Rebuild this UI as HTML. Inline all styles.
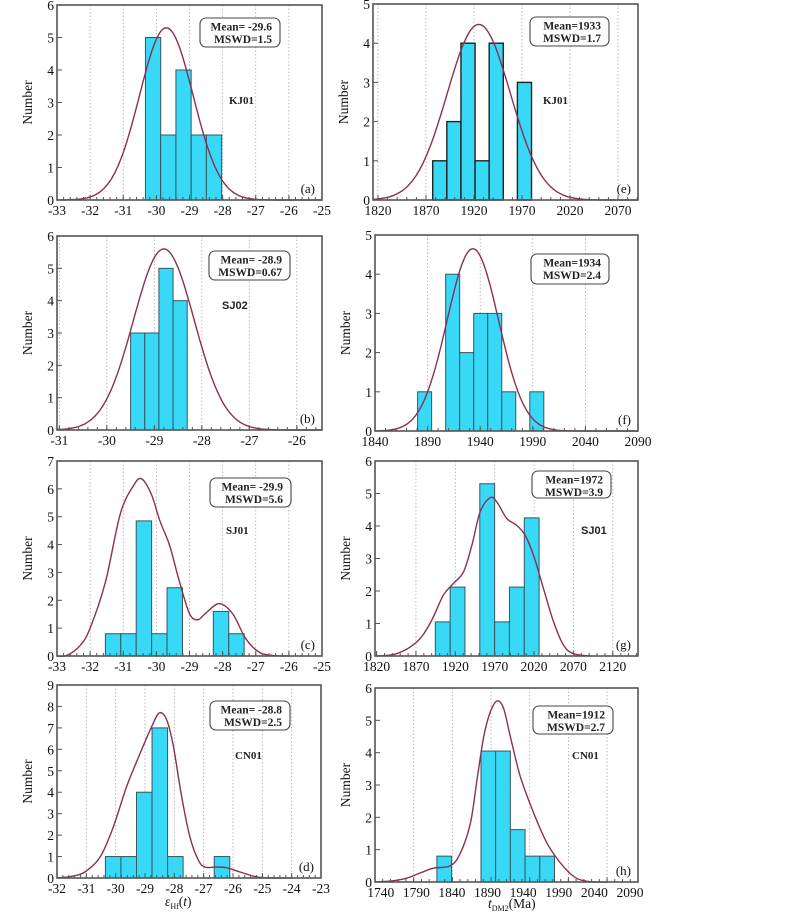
<!DOCTYPE html>
<html><head><meta charset="utf-8">
<style>
html,body{margin:0;padding:0;background:#fff;}
svg{display:block;font-family:"Liberation Serif",serif;}
</style></head>
<body>
<svg id="fig" width="800" height="914" viewBox="0 0 800 914" xmlns="http://www.w3.org/2000/svg"></svg>
<script>
// ---- data: panel a (KJ01 eHf)
const aBinStart = -30.33, aBinWidth = 0.46;
const aCounts = [5, 2, 4, 2, 2];
const aCurve = [5.3, -29.7, 0.81];
const aXTicks = [-33, -32, -31, -30, -29, -28, -27, -26, -25];
const aYTicks = [0, 1, 2, 3, 4, 5, 6];
// panel b (SJ02 eHf)
const bBinStart = -29.5, bBinWidth = 0.298;
const bCounts = [3, 3, 5, 4];
const bCurve = [5.6, -28.8, 0.64];
const bXTicks = [-31, -30, -29, -28, -27, -26];
const bYTicks = [0, 1, 2, 3, 4, 5, 6];
// panel c (SJ01 eHf)
const cBinStart = -31.54, cBinWidth = 0.4656;
const cCounts = [0.8, 0.8, 4.85, 0.8, 2.45, 0, 0, 1.6, 0.8];
const cCurveX = [-33, -32.7, -32.3, -32.0, -31.54, -31.09, -30.7, -30.45, -30.15, -29.9, -29.6, -29.3, -29.0, -28.75, -28.5, -28.1, -27.7, -27.3, -26.9, -26.5, -26];
const cCurveY = [0, 0.02, 0.38, 1.0, 2.65, 5.1, 6.1, 6.36, 5.8, 4.87, 3.97, 2.65, 1.52, 1.3, 1.55, 1.88, 1.52, 0.62, 0.14, 0.02, 0];
const cXTicks = [-33, -32, -31, -30, -29, -28, -27, -26, -25];
const cYTicks = [0, 1, 2, 3, 4, 5, 6, 7];
// panel d (CN01 eHf)
const dBinStart = -30.35, dBinWidth = 0.53;
const dCounts = [1, 1, 4, 7, 1, 0, 0, 1];
const dCurveX = [-32, -31.5, -31.05, -30.53, -30.08, -29.63, -29.17, -28.77, -28.51, -28.26, -28.03, -27.75, -27.47, -27.18, -26.95, -26.56, -26.22, -25.76, -25.19, -24.63, -24];
const dCurveY = [0, 0.08, 0.28, 0.98, 2.38, 4.25, 5.8, 7.06, 7.7, 7.37, 6.12, 3.79, 1.92, 0.83, 0.51, 0.51, 0.48, 0.28, 0.05, 0, 0];
const dXTicks = [-32, -31, -30, -29, -28, -27, -26, -25, -24, -23];
const dYTicks = [0, 1, 2, 3, 4, 5, 6, 7, 8, 9];
// panel e (KJ01 tDM2)
const eBinStart = 1877, eBinWidth = 14.7;
const eCounts = [1, 2, 4, 1, 4, 0, 3];
const eCurve = [4.48, 1925, 32.9];
const eXTicks = [1820, 1870, 1920, 1970, 2020, 2070];
const eYTicks = [0, 1, 2, 3, 4, 5];
// panel f (SJ02 tDM2)
const fBinStart = 1880.5, fBinWidth = 13.33;
const fCounts = [1, 0, 4, 2, 3, 3, 1, 0, 1];
const fCurve = [4.65, 1933, 24.5];
const fXTicks = [1840, 1890, 1940, 1990, 2040, 2090];
const fYTicks = [0, 1, 2, 3, 4, 5];
// panel g (SJ01 tDM2)
const gBinStart = 1894.6, gBinWidth = 18.83;
const gCounts = [1.05, 2.12, 0, 5.3, 1.05, 2.12, 4.25];
const gCurveX = [1820, 1845.4, 1870.9, 1887.9, 1904.8, 1917.5, 1930.3, 1940.9, 1951.5, 1964.2, 1972.7, 1985.4, 1998.1, 2008.7, 2019.3, 2032, 2044.8, 2057.5, 2070.2, 2091.4];
const gCurveY = [0, 0.07, 0.43, 1.0, 1.87, 2.23, 2.58, 3.4, 4.43, 4.87, 4.74, 4.23, 4.02, 3.71, 3.1, 2.07, 1.05, 0.33, 0.07, 0];
const gXTicks = [1820, 1870, 1920, 1970, 2020, 2070, 2120];
const gYTicks = [0, 1, 2, 3, 4, 5, 6];
// panel h (CN01 tDM2)
const hBinStart = 1820, hBinWidth = 19.0;
const hCounts = [0.8, 0, 0, 4.05, 4.05, 1.62, 0.8, 0.8];
const hCurveX = [1740, 1764, 1781.4, 1798.6, 1815.9, 1837.4, 1850.3, 1863.3, 1871.9, 1880.5, 1889.1, 1897.8, 1906.4, 1915, 1927.9, 1945.2, 1962.4, 1979.7, 1996.9, 2009.8, 2022.8, 2040];
const hCurveY = [0, 0.04, 0.12, 0.28, 0.43, 0.5, 0.89, 1.82, 3.16, 4.49, 5.26, 5.6, 5.36, 4.49, 3.26, 2.13, 1.2, 0.59, 0.17, 0.04, 0, 0];
const hXTicks = [1740, 1790, 1840, 1890, 1940, 1990, 2040, 2090];
const hYTicks = [0, 1, 2, 3, 4, 5, 6];

// ---- layout (geometry only)
const panels = [
 {id:'a', L:57,T:5,R:322,B:200, xd:[-33,-25], yd:[0,6], xt:aXTicks, yt:aYTicks, start:aBinStart, w:aBinWidth, counts:aCounts, gauss:aCurve,
  box:[200,18,80,29], mean:'Mean= -29.6', mswd:'MSWD=1.5', sample:'KJ01', sx:229, sy:104, sans:false},
 {id:'b', L:57,T:236,R:322,B:430, xd:[-31.05,-25.47], yd:[0,6], xt:bXTicks, yt:bYTicks, start:bBinStart, w:bBinWidth, counts:bCounts, gauss:bCurve,
  box:[209,251,81,29], mean:'Mean= -28.9', mswd:'MSWD=0.67', sample:'SJ02', sx:222, sy:309, sans:true},
 {id:'c', L:57,T:461,R:322,B:656, xd:[-33,-25], yd:[0,7], xt:cXTicks, yt:cYTicks, start:cBinStart, w:cBinWidth, counts:cCounts, px:cCurveX, py:cCurveY,
  box:[210,478,81,29], mean:'Mean= -29.9', mswd:'MSWD=5.6', sample:'SJ01', sx:226, sy:534, sans:false},
 {id:'d', L:57,T:685,R:321,B:878, xd:[-32,-23], yd:[0,9], xt:dXTicks, yt:dYTicks, start:dBinStart, w:dBinWidth, counts:dCounts, px:dCurveX, py:dCurveY,
  box:[210,701,80,29], mean:'Mean= -28.8', mswd:'MSWD=2.5', sample:'CN01', sx:235, sy:759, sans:false},
 {id:'e', L:373,T:4,R:638,B:200, xd:[1814.8,2090.8], yd:[0,5], xt:eXTicks, yt:eYTicks, start:eBinStart, w:eBinWidth, counts:eCounts, gauss:eCurve,
  box:[530,17,79,29], mean:'Mean=1933', mswd:'MSWD=1.7', sample:'KJ01', sx:543, sy:104, sans:false, thick:true},
 {id:'f', L:375,T:235,R:638,B:431, xd:[1840,2090], yd:[0,5], xt:fXTicks, yt:fYTicks, start:fBinStart, w:fBinWidth, counts:fCounts, gauss:fCurve,
  box:[531,254,78,30], mean:'Mean=1934', mswd:'MSWD=2.4', sample:'', sans:false},
 {id:'g', L:375,T:461,R:638,B:656, xd:[1818,2152], yd:[0,6], xt:gXTicks, yt:gYTicks, start:gBinStart, w:gBinWidth, counts:gCounts, px:gCurveX, py:gCurveY,
  box:[532,471,79,27], mean:'Mean=1972', mswd:'MSWD=3.9', sample:'SJ01', sx:581, sy:534, sans:true},
 {id:'h', L:375,T:688,R:638,B:882, xd:[1740,2080], yd:[0,6], xt:hXTicks, yt:hYTicks, start:hBinStart, w:hBinWidth, counts:hCounts, px:hCurveX, py:hCurveY,
  box:[533,706,80,28], mean:'Mean=1912', mswd:'MSWD=2.7', sample:'CN01', sx:572, sy:759, sans:false, labelMap:[1740,380.7,2090,630]}
];

const NS='http://www.w3.org/2000/svg';
const svg=document.getElementById('fig');
function mk(tag, attrs, parent){
  const e=document.createElementNS(NS,tag);
  for(const k in attrs) e.setAttribute(k,attrs[k]);
  (parent||svg).appendChild(e); return e;
}
function smoothPath(pts){
  let d='M'+pts[0][0].toFixed(1)+','+pts[0][1].toFixed(1);
  for(let i=0;i<pts.length-1;i++){
    const p0=pts[Math.max(0,i-1)],p1=pts[i],p2=pts[i+1],p3=pts[Math.min(pts.length-1,i+2)];
    const c1x=p1[0]+(p2[0]-p0[0])/6,c1y=p1[1]+(p2[1]-p0[1])/6;
    const c2x=p2[0]-(p3[0]-p1[0])/6,c2y=p2[1]-(p3[1]-p1[1])/6;
    d+=' C'+c1x.toFixed(1)+','+c1y.toFixed(1)+' '+c2x.toFixed(1)+','+c2y.toFixed(1)+' '+p2[0].toFixed(1)+','+p2[1].toFixed(1);
  }
  return d;
}

panels.forEach(p=>{
  const g=mk('g',{});
  
  
  const sx=v=>p.L+(v-p.xd[0])/(p.xd[1]-p.xd[0])*(p.R-p.L);
  const sy=v=>p.B-(v-p.yd[0])/(p.yd[1]-p.yd[0])*(p.B-p.T);
  const lx=p.labelMap?(v=>p.labelMap[1]+(v-p.labelMap[0])/(p.labelMap[2]-p.labelMap[0])*(p.labelMap[3]-p.labelMap[1])):sx;
  p.xt.forEach(t=>{
    const x=sx(t);
    if(x>p.L+2 && x<p.R-2){
      const gl=mk('line',{x1:x,y1:p.T,x2:x,y2:p.B,stroke:'#aaa','stroke-width':0.8,'stroke-dasharray':'1.5,2'},g);
      
      
    }
  });
  p.counts.forEach((c,i)=>{
    if(c<=0) return;
    const x0=sx(p.start+i*p.w),x1=sx(p.start+(i+1)*p.w),y=sy(c);
    const r=mk('rect',{x:x0,y:y,width:x1-x0,height:p.B-y,fill:'#38d8f7',stroke:p.thick?'#222':'#3a5560','stroke-width':p.thick?1.4:1},g);
    
    
  });
  let pts=[];
  if(p.gauss){
    const [A,mu,s]=p.gauss;
    for(let i=0;i<=160;i++){const v=p.xd[0]+(p.xd[1]-p.xd[0])*i/160;pts.push([sx(v),sy(A*Math.exp(-(v-mu)*(v-mu)/(2*s*s)))]);}
    let d='M'+pts.map(q=>q[0].toFixed(1)+','+q[1].toFixed(1)).join(' L');
    const c=mk('path',{d:d,fill:'none',stroke:'#8a2f55','stroke-width':1.4},g);
    
    
  } else {
    pts=p.px.map((v,i)=>[sx(v),sy(p.py[i])]);
    const c=mk('path',{d:smoothPath(pts),fill:'none',stroke:'#8a2f55','stroke-width':1.4},g);
    
    
  }
  const fr=mk('rect',{x:p.L,y:p.T,width:p.R-p.L,height:p.B-p.T,fill:'none',stroke:'#555','stroke-width':1.6},g);
  
  
  const step=p.xt[1]-p.xt[0];
  for(let v=p.xt[0];v<=p.xd[1]+1e-9;v+=step/5){
    const x=sx(v); if(x<p.L-0.5||x>p.R+0.5) continue;
    mk('line',{x1:x,y1:p.B,x2:x,y2:p.B-3,stroke:'#555','stroke-width':1},g);
  }
  p.xt.forEach(t=>{
    const x=sx(t);
    if(x>=p.L-1&&x<=p.R+1) mk('line',{x1:x,y1:p.B,x2:x,y2:p.B-5,stroke:'#555','stroke-width':1},g);
    const tl=mk('text',{x:lx(t),y:p.B+15,'font-size':13.5,'text-anchor':'middle',fill:'#111'},g);
    tl.textContent=String(t);
    
    
  });
  p.yt.forEach(t=>{
    const y=sy(t);
    mk('line',{x1:p.L,y1:y,x2:p.L+5,y2:y,stroke:'#555','stroke-width':1},g);
    const tl=mk('text',{x:p.L-3,y:y+5,'font-size':13.5,'text-anchor':'end',fill:'#111'},g);
    tl.textContent=String(t);
    
    
  });
  const yx=p.L-25, ym=(p.T+p.B)/2;
  const yl=mk('text',{x:yx,y:ym,'font-size':13.5,'text-anchor':'middle',transform:'rotate(-90 '+yx+' '+ym+')',fill:'#111'},g);
  yl.textContent='Number';
  
  
  const [bx,by,bw,bh]=p.box;
  const br=mk('rect',{x:bx,y:by,width:bw,height:bh,rx:6,ry:6,fill:'#fff',stroke:'#444','stroke-width':1.1},g);
  
  
  const t1=mk('text',{x:bx+bw-8,y:by+12.5,'font-size':11.5,'font-weight':'bold','text-anchor':'end',fill:'#222'},g);
  t1.textContent=p.mean;
  
  
  const t2=mk('text',{x:bx+bw-8,y:by+25,'font-size':11.5,'font-weight':'bold','text-anchor':'end',fill:'#222'},g);
  t2.textContent=p.mswd;
  
  
  if(p.sample){
    const s=mk('text',{x:p.sx,y:p.sy,'font-size':11,'font-weight':'bold',fill:'#222','font-family':p.sans?'"Liberation Sans",sans-serif':'"Liberation Serif",serif'},g);
    s.textContent=p.sample;
    
    
  }
  const pl=mk('text',{x:p.R-7,y:p.B-7,'font-size':13,'text-anchor':'end',fill:'#111'},g);
  pl.textContent='('+p.id+')';
  
  
});

const xt1=mk('text',{x:165,y:906,'font-size':13.5,fill:'#111'});
xt1.innerHTML='<tspan font-style="italic">ε</tspan><tspan font-size="8" dy="3">Hf</tspan><tspan dy="-3">(</tspan><tspan font-style="italic">t</tspan><tspan>)</tspan>';


const xt2=mk('text',{x:488,y:908,'font-size':13.5,fill:'#111'});
xt2.innerHTML='<tspan font-style="italic">t</tspan><tspan font-size="8" dy="3">DM2</tspan><tspan dy="-3">(Ma)</tspan>';


</script>
</body></html>
